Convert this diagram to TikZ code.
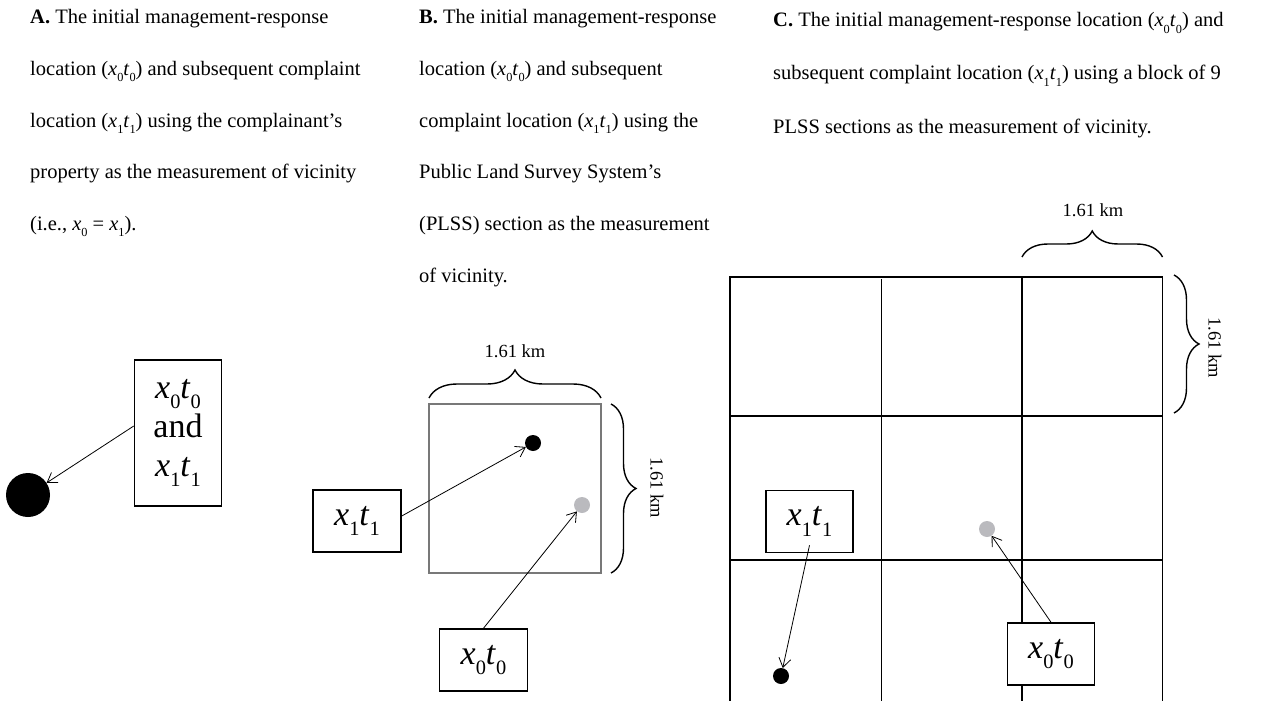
\documentclass[tikz,border=0pt]{standalone}
\usepackage{fontspec}
\usepackage{graphicx}
\setmainfont{Liberation Serif}
\usetikzlibrary{arrows.meta,decorations.pathreplacing}

% italic symbol with a lowered upright index
\newcommand\ixs[2]{\textit{#1}\raisebox{-0.3em}{\scalebox{0.6}{#2}}}

\definecolor{dotgray}{RGB}{186,186,190}
\definecolor{framegray}{RGB}{120,120,120}

\tikzset{
  caption/.style={anchor=base west, inner sep=0pt, font=\fontsize{20.5}{24}\selectfont},
  tag/.style={draw, line width=1.5pt, fill=white, inner sep=0pt,
              minimum width=88pt, minimum height=62pt,
              font=\fontsize{34}{39}\selectfont},
  pointer/.style={line width=0.8pt, -{Straight Barb[length=9pt,width=12pt]}},
  kmbrace/.style={decorate, decoration={brace, amplitude=#1}, line width=1.4pt},
  kmlabel/.style={inner sep=0pt, font=\fontsize{18.5}{21}\selectfont},
  darkdot/.style={circle, fill=black, inner sep=0pt, minimum size=#1},
  lightdot/.style={circle, fill=dotgray, inner sep=0pt, minimum size=#1},
  gridline/.style={line width=1.3pt}
}

\begin{document}
\begin{tikzpicture}[x=1pt,y=-1pt]
\useasboundingbox (0,0) rectangle (1261,701);

% ---------- captions ----------
\node[caption] (capA1) at (30,24)    {\textbf{A.} The initial management-response};
\node[caption] (capA2) at (30,75.6)  {location (\ixs{x}{0}\ixs{t}{0}) and subsequent complaint};
\node[caption] (capA3) at (30,127.2) {location (\ixs{x}{1}\ixs{t}{1}) using the complainant’s};
\node[caption] (capA4) at (30,178.8) {property as the measurement of vicinity};
\node[caption] (capA5) at (30,230.4) {(i.e., \ixs{x}{0} = \ixs{x}{1}).};

\node[caption] (capB1) at (419,24)    {\textbf{B.} The initial management-response};
\node[caption] (capB2) at (419,75.6)  {location (\ixs{x}{0}\ixs{t}{0}) and subsequent};
\node[caption] (capB3) at (419,127.2) {complaint location (\ixs{x}{1}\ixs{t}{1}) using the};
\node[caption] (capB4) at (419,178.8) {Public Land Survey System’s};
\node[caption] (capB5) at (419,230.4) {(PLSS) section as the measurement};
\node[caption] (capB6) at (419,282)   {of vicinity.};

\node[caption] (capC1) at (773,27)  {\textbf{C.} The initial management-response location (\ixs{x}{0}\ixs{t}{0}) and};
\node[caption] (capC2) at (773,80)  {subsequent complaint location (\ixs{x}{1}\ixs{t}{1}) using a block of 9};
\node[caption] (capC3) at (773,133) {PLSS sections as the measurement of vicinity.};

% ---------- panel A: complainant's property ----------
\node[darkdot=44pt] (aDot) at (28,495) {};
\node[tag, minimum width=87pt, minimum height=146pt, align=center] (aTag) at (178,433)
  {\ixs{x}{0}\ixs{t}{0}\\and\\\ixs{x}{1}\ixs{t}{1}};
\draw[pointer] ([yshift=7pt]aTag.west) -- (aDot);

% ---------- panel B: one PLSS section ----------
\draw[line width=1.2pt, draw=framegray] (429,404) rectangle (601,573);
\coordinate (bTL) at (429,398);
\coordinate (bTR) at (601,398);
\coordinate (bRT) at (611,404);
\coordinate (bRB) at (611,573);
\draw[kmbrace=28pt] (bTL) -- (bTR);
\draw[kmbrace=25pt] (bRT) -- (bRB);
\node[kmlabel] (bKmTop) at (515,351) {1.61 km};
\node[kmlabel, rotate=-90] (bKmSide) at (657,488) {1.61 km};

\node[darkdot=16pt] (bDark) at (533,443) {};
\node[lightdot=16pt] (bLight) at (582,505) {};

\node[tag] (b1) at (357,521) {\ixs{x}{1}\ixs{t}{1}};
\node[tag] (b0) at (483.5,660) {\ixs{x}{0}\ixs{t}{0}};
\draw[pointer] ([yshift=5pt]b1.east) -- (bDark);
\draw[pointer] (b0.north) -- (bLight);

% ---------- panel C: block of 9 PLSS sections ----------
\draw[gridline] (730,701) -- (730,277) -- (1162.5,277) -- (1162.5,701);
\draw[gridline] (881.5,279) -- (881.5,701);
\draw[gridline] (1022,277) -- (1022,701);
\draw[gridline] (730,416) -- (1162.5,416);
\draw[gridline] (730,560) -- (1162.5,560);

\coordinate (cTL) at (1022,257);
\coordinate (cTR) at (1162.5,257);
\coordinate (cRT) at (1174,275);
\coordinate (cRB) at (1174,413);
\draw[kmbrace=26pt] (cTL) -- (cTR);
\draw[kmbrace=25pt] (cRT) -- (cRB);
\node[kmlabel] (cKmTop) at (1093,210) {1.61 km};
\node[kmlabel, rotate=-90] (cKmSide) at (1215,348) {1.61 km};

\node[lightdot=16pt] (cLight) at (987,529) {};
\node[darkdot=16pt] (cDark) at (781,676) {};

\node[tag, minimum width=87pt] (c1) at (809.5,521.5) {\ixs{x}{1}\ixs{t}{1}};
\node[tag, minimum width=87pt] (c0) at (1051,654) {\ixs{x}{0}\ixs{t}{0}};
\draw[pointer] ([yshift=8pt]c1.south) -- (cDark);
\draw[pointer] (c0.north) -- (cLight);
\end{tikzpicture}
\end{document}
